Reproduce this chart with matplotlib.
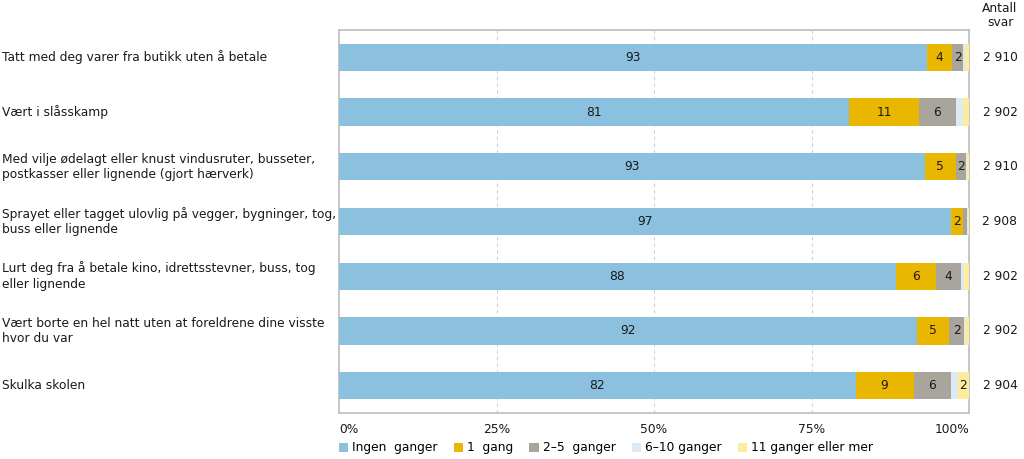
import matplotlib
matplotlib.use("Agg")
import matplotlib.pyplot as plt
from matplotlib.patches import Patch
import numpy as np

plt.rcParams['font.family'] = ['DejaVu Sans']

categories = [
    "Tatt med deg varer fra butikk uten å betale",
    "Vært i slåsskamp",
    "Med vilje ødelagt eller knust vindusruter, busseter,\npostkasser eller lignende (gjort hærverk)",
    "Sprayet eller tagget ulovlig på vegger, bygninger, tog,\nbuss eller lignende",
    "Lurt deg fra å betale kino, idrettsstevner, buss, tog\neller lignende",
    "Vært borte en hel natt uten at foreldrene dine visste\nhvor du var",
    "Skulka skolen",
]
series_names = ["Ingen  ganger", "1  gang", "2–5  ganger", "6–10 ganger", "11 ganger eller mer"]
ingen = [93.4, 81.0, 93.0, 97.1, 88.4, 91.8, 82.0]
en_gang = [3.9, 11.0, 4.9, 1.9, 6.3, 5.1, 9.2]
to_fem = [1.8, 5.9, 1.6, 0.7, 4.0, 2.3, 6.0]
seks_ti = [0.2, 1.1, 0.2, 0.1, 0.5, 0.2, 1.0]
elleve = [0.7, 1.0, 0.3, 0.2, 0.8, 0.6, 1.8]
antall_svar = ["2 910", "2 902", "2 910", "2 908", "2 902", "2 902", "2 904"]
x_ticks = [0, 25, 50, 75, 100]
x_tick_labels = ["0%", "25%", "50%", "75%", "100%"]

colors = ["#8bc0de", "#e9b600", "#a9a49c", "#dde9f3", "#fcec9e"]
series = [ingen, en_gang, to_fem, seks_ti, elleve]

FS = 8.8
fig = plt.figure(figsize=(10.24, 4.59), dpi=100)
ax = fig.add_axes([339/1024, 1 - 413/459, 630/1024, 383/459])

y = np.arange(len(categories))
left = np.zeros(len(categories))
for vals, col, name in zip(series, colors, series_names):
    vals = np.array(vals)
    ax.barh(y, vals, left=left, height=0.5, color=col, label=name, zorder=3)
    for yi, (l, v) in enumerate(zip(left, vals)):
        if v >= 1.5:
            ax.text(l + v / 2, yi, f"{round(v):d}", ha="center", va="center",
                    fontsize=FS, color="#1a1a1a", zorder=4)
    left = left + vals

ax.set_xlim(0, 100)
ax.set_ylim(6.5, -0.5)
ax.set_yticks([])
ax.set_xticks(x_ticks)
ax.set_xticklabels(x_tick_labels, fontsize=FS, color="#1a1a1a")
ax.tick_params(axis="x", length=0, pad=7)
tl = ax.get_xticklabels()
tl[0].set_ha("left")
tl[-1].set_ha("right")
for t in [25, 50, 75]:
    ax.axvline(t, color="#d0d0d0", linestyle=(0, (3, 3)), linewidth=0.8, zorder=1)
for s in ax.spines.values():
    s.set_color("#bdbdbd")
    s.set_linewidth(1.2)

lab_x = (2 - 339) / 630
for yi, cat in enumerate(categories):
    ax.text(lab_x, yi, cat, transform=ax.get_yaxis_transform(), ha="left", va="center",
            fontsize=FS, color="#1a1a1a", linespacing=1.25)
    ax.text((1000 - 339) / 630, yi, antall_svar[yi], transform=ax.get_yaxis_transform(),
            ha="center", va="center", fontsize=FS, color="#1a1a1a")
fig.text(1000/1024, 1 - 15/459, "Antall\nsvar", ha="center", va="center", fontsize=FS,
         color="#1a1a1a", linespacing=1.1)

handles = [Patch(facecolor=c, edgecolor="none") for c in colors]
fig.legend(handles, series_names, loc="center left", bbox_to_anchor=(339/1024, 1 - 448/459),
           ncol=5, frameon=False, fontsize=FS, handlelength=0.75, handleheight=0.75,
           handletextpad=0.35, columnspacing=1.3, borderaxespad=0, borderpad=0)

fig.savefig("out.png", dpi=100)
